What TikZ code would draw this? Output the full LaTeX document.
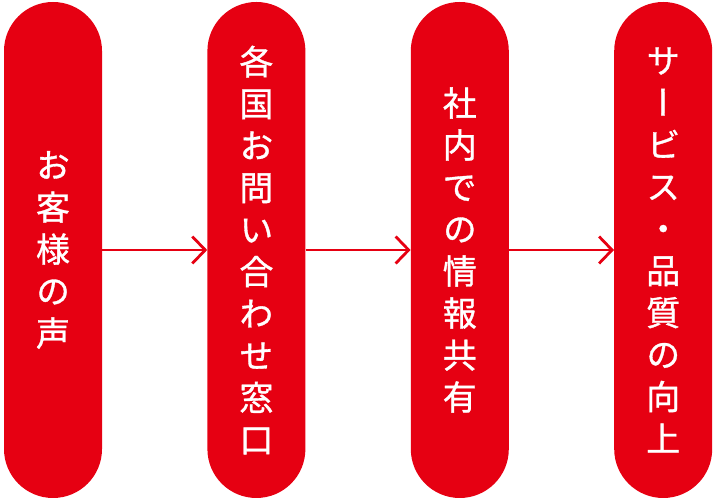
\documentclass[tikz,border=0pt]{standalone}
\usepackage{fontspec}
\newfontfamily\cjk[RawFeature=+vert, FakeBold=1]{Noto Sans CJK JP}
\usetikzlibrary{positioning, arrows.meta}
\definecolor{brandred}{RGB}{230,0,18}
\tikzset{
  x=1pt, y=1pt,
  node distance=105pt, semithick
}

\begin{document}
\begin{tikzpicture}
      \tikzstyle{pill}=[fill=brandred, rounded corners=49pt, minimum width=98pt,
        minimum height=496pt, inner sep=0pt, text=white, align=center,
        font=\cjk\fontsize{34}{42}\selectfont]
      \tikzstyle{flow}=[draw=brandred, line width=2pt,
        -{Straight Barb[length=13pt, width=27pt, line width=2.8pt]}]
      \useasboundingbox (0,0) rectangle (716,500);

      \node[pill] (voice) at (53,250) {お\\客\\様\\の\\声};
      \node[pill, right = of voice] (window) {各\\国\\お\\問\\い\\合\\わ\\せ\\窓\\口};
      \node[pill, right = of window] (share) {社\\内\\で\\の\\情\\報\\共\\有};
      \node[pill, right = of share] (improve) {サ\\ー\\ビ\\ス\\・\\品\\質\\の\\向\\上};

      \path (voice)  edge[flow] (window)
      (window) edge[flow] (share)
      (share)  edge[flow] (improve);

    \end{tikzpicture}
\end{document}
